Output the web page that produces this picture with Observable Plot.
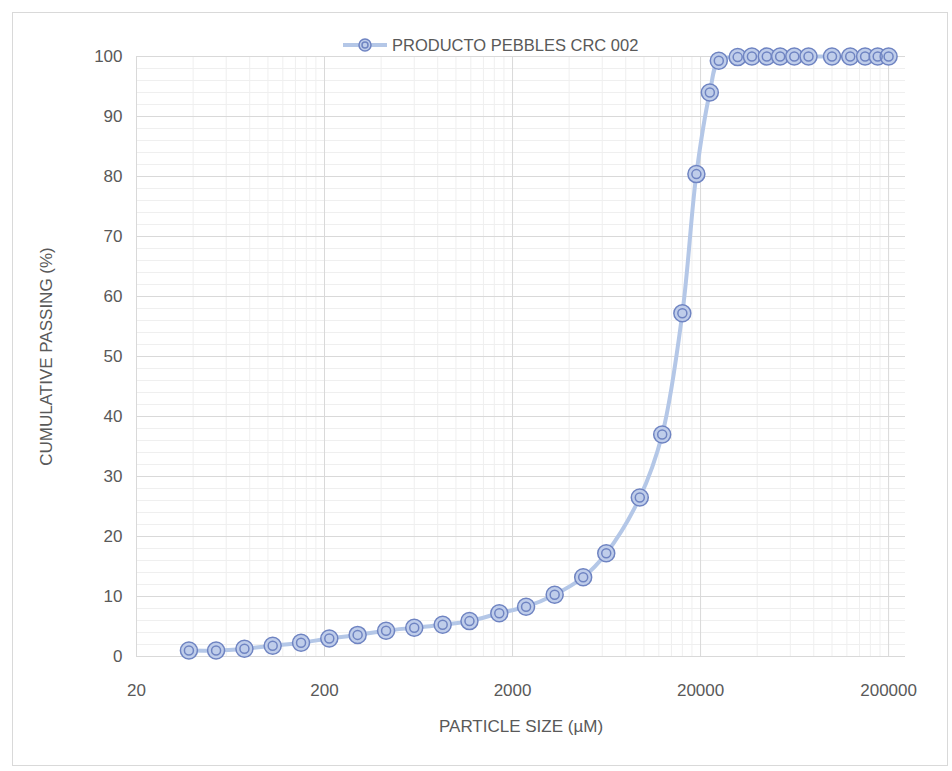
<!DOCTYPE html>
<html><head><meta charset="utf-8">
<script src="https://cdn.jsdelivr.net/npm/d3@7"></script>
<script src="https://cdn.jsdelivr.net/npm/@observablehq/plot@0.6"></script>
<style>
body{margin:0;background:#fff;}
#wrap{position:relative;width:952px;height:771px;overflow:hidden;}
#frame{position:absolute;left:12px;top:12px;width:936px;height:754px;border:1px solid #d9d9d9;box-sizing:border-box;pointer-events:none}
#chart{position:absolute;left:0;top:0;}
#legend{position:absolute;left:343px;top:33px;height:24px;display:flex;align-items:center;font-family:"Liberation Sans";font-size:16.5px;color:#595959;white-space:nowrap}
</style></head>
<body><div id="wrap"><div id="frame"></div><div id="chart"></div><div id="legend"></div></div>
<script>
const seriesName = "PRODUCTO PEBBLES CRC 002";
const sizes = [38, 53, 75, 106, 150, 212, 300, 425, 600, 850, 1180, 1700, 2360, 3350, 4750, 6300, 9500, 12500, 16000, 19000, 22400, 25000, 31500, 37500, 45000, 53000, 63000, 75000, 100000, 125000, 150000, 175000, 200000];
const passing = [1.0, 1.0, 1.3, 1.8, 2.3, 3.0, 3.6, 4.3, 4.8, 5.3, 5.9, 7.2, 8.3, 10.3, 13.2, 17.2, 26.5, 37.0, 57.2, 80.4, 94.0, 99.3, 99.9, 100, 100, 100, 100, 100, 100, 100, 100, 100, 100];
const xTicks = [20, 200, 2000, 20000, 200000];
const yTicks = [0, 10, 20, 30, 40, 50, 60, 70, 80, 90, 100];
const xLabel = "PARTICLE SIZE (µM)";
const yLabel = "CUMULATIVE PASSING (%)";

const data = sizes.map((s, i) => ({size: s, pct: passing[i]}));
const xMax = 246000;
const minorX = [];
for (const t of xTicks) for (let k = 2; k <= 9; k++) if (t * k < xMax) minorX.push(t * k);
const minorY = d3.range(0, 101, 2).filter(v => v % 10 !== 0);

const lineColor = "#b4c7e7";
const markStroke = "#6f84c2";
const markFill = "#bfcdea";

const chart = Plot.plot({
  width: 952, height: 771,
  marginLeft: 136, marginRight: 47, marginTop: 56, marginBottom: 115,
  style: {fontFamily: "Liberation Sans", fontSize: "17px", color: "#595959", background: "transparent"},
  x: {type: "log", domain: [20, xMax], ticks: xTicks, tickFormat: d => String(d), tickSize: 0, tickPadding: 27,
      label: xLabel, labelAnchor: "center", labelOffset: 75, labelArrow: "none"},
  y: {domain: [0, 100], ticks: yTicks, tickSize: 0, tickPadding: 14,
      label: yLabel, labelAnchor: "center", labelOffset: 97, labelArrow: "none"},
  marks: [
    Plot.ruleX(minorX, {stroke: "#efefef", strokeWidth: 1}),
    Plot.ruleY(minorY, {stroke: "#efefef", strokeWidth: 1}),
    Plot.ruleX(xTicks, {stroke: "#d9d9d9", strokeWidth: 1}),
    Plot.ruleY(yTicks, {stroke: "#d9d9d9", strokeWidth: 1}),
    Plot.line(data, {x: "size", y: "pct", curve: "catmull-rom", stroke: lineColor, strokeWidth: 4}),
    Plot.dot(data, {x: "size", y: "pct", r: 8.5, fill: markFill, stroke: markStroke, strokeWidth: 1.5}),
    Plot.dot(data, {x: "size", y: "pct", r: 4.5, fill: "none", stroke: markStroke, strokeWidth: 1.5})
  ]
});
document.getElementById("chart").appendChild(chart);

const leg = document.getElementById("legend");
leg.innerHTML = `<svg width="44" height="24" style="margin-right:5px"><line x1="0" y1="12" x2="44" y2="12" stroke="${lineColor}" stroke-width="4"/><circle cx="22" cy="12" r="6" fill="${markFill}" stroke="${markStroke}" stroke-width="1.5"/><circle cx="22" cy="12" r="3" fill="none" stroke="${markStroke}" stroke-width="1.5"/></svg><span>${seriesName}</span>`;
</script>
</body></html>
